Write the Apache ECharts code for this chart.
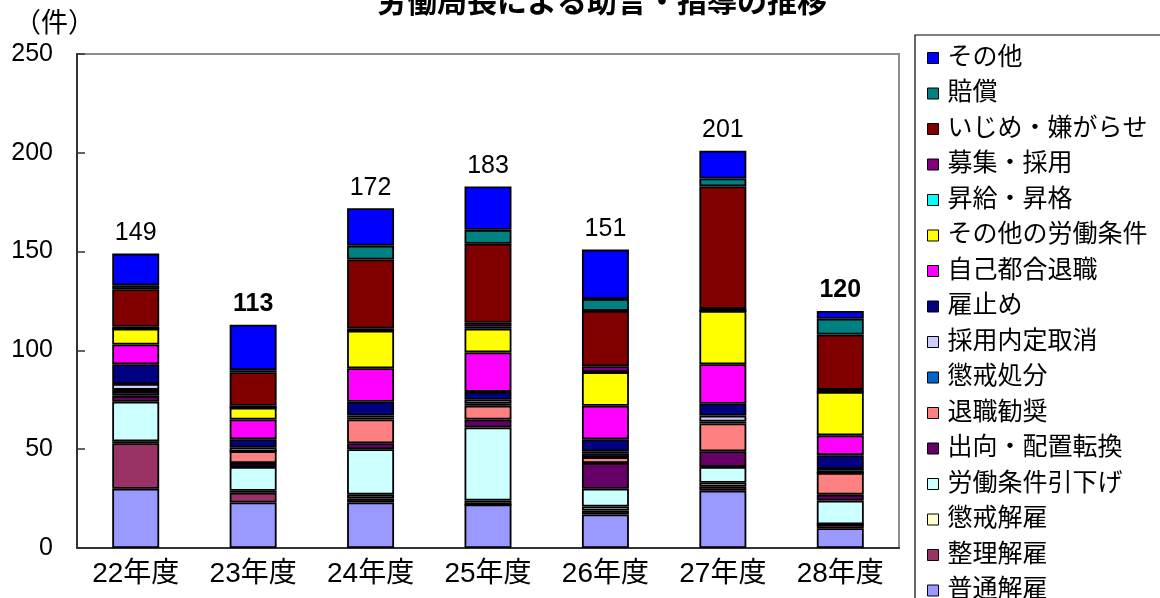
<!DOCTYPE html>
<html>
<head>
<meta charset="utf-8">
<script src="https://cdn.jsdelivr.net/npm/echarts@6/dist/echarts.min.js"></script>
<style>
  html, body { margin: 0; padding: 0; background: #fff; }
  #chart { width: 1160px; height: 598px; }
</style>
</head>
<body>
<div id="chart"></div>
<script>
// 年度
const years = ['22年度', '23年度', '24年度', '25年度', '26年度', '27年度', '28年度'];

// 件数（下から積み上げる順）
const futsuKaiko      = [30, 23, 23, 22, 17, 29, 10]; // 普通解雇
const seiriKaiko      = [23,  5,  2,  0,  2,  2,  2]; // 整理解雇
const chokaiKaiko     = [ 1,  1,  2,  2,  2,  2,  0]; // 懲戒解雇
const hikisage        = [20, 12, 23, 37,  9,  8, 12]; // 労働条件引下げ
const shukko          = [ 3,  2,  3,  4, 13,  8,  3]; // 出向・配置転換
const taishokuKansho  = [ 2,  6, 12,  7,  3, 14, 11]; // 退職勧奨
const chokaiShobun    = [ 1,  0,  1,  1,  2,  1,  0]; // 懲戒処分
const naiteiTorikeshi = [ 3,  2,  1,  2,  1,  3,  2]; // 採用内定取消
const yatoidome       = [10,  4,  7,  4,  6,  6,  7]; // 雇止め
const jikoTsugo       = [10, 10, 17, 20, 17, 20, 10]; // 自己都合退職
const sonotaJoken     = [ 8,  6, 19, 12, 17, 27, 22]; // その他の労働条件
const shokyu          = [ 0,  0,  0,  1,  0,  0,  0]; // 昇給・昇格
const boshu           = [ 1,  1,  1,  2,  3,  1,  1]; // 募集・採用
const ijime           = [19, 17, 35, 40, 28, 62, 28]; // いじめ・嫌がらせ
const baisho          = [ 2,  1,  7,  7,  6,  4,  8]; // 賠償
const sonota          = [16, 23, 19, 22, 25, 14,  4]; // その他

const yTicks = [0, 50, 100, 150, 200, 250];

const stackDefs = [
  ['普通解雇', futsuKaiko, '#9999FF'],
  ['整理解雇', seiriKaiko, '#993366'],
  ['懲戒解雇', chokaiKaiko, '#FFFFCC'],
  ['労働条件引下げ', hikisage, '#CCFFFF'],
  ['出向・配置転換', shukko, '#660066'],
  ['退職勧奨', taishokuKansho, '#FF8080'],
  ['懲戒処分', chokaiShobun, '#0066CC'],
  ['採用内定取消', naiteiTorikeshi, '#CCCCFF'],
  ['雇止め', yatoidome, '#000080'],
  ['自己都合退職', jikoTsugo, '#FF00FF'],
  ['その他の労働条件', sonotaJoken, '#FFFF00'],
  ['昇給・昇格', shokyu, '#00FFFF'],
  ['募集・採用', boshu, '#800080'],
  ['いじめ・嫌がらせ', ijime, '#800000'],
  ['賠償', baisho, '#008080'],
  ['その他', sonota, '#0000FF']
];

// 各年度の合計（棒の上に表示）
const totals = years.map((_, i) => stackDefs.reduce((s, d) => s + d[1][i], 0));
const boldTotalIdx = [1, 6];

const numFont = '"Liberation Sans", Arial, "Noto Sans CJK JP", sans-serif';
const jpFont = '"Liberation Sans", "Noto Sans CJK JP", sans-serif';

const series = stackDefs.map((d, k) => {
  const isTop = k === stackDefs.length - 1;
  return {
    name: d[0],
    type: 'bar',
    stack: 'total',
    barWidth: '40%',
    itemStyle: { color: d[2], borderColor: '#000', borderWidth: 1.8 },
    emphasis: { disabled: true },
    data: isTop
      ? d[1].map((v, i) => ({
          value: v,
          label: {
            show: true,
            position: 'top',
            distance: 8,
            formatter: String(totals[i]),
            fontSize: 25,
            fontFamily: numFont,
            fontWeight: boldTotalIdx.includes(i) ? 'bold' : 'normal',
            color: '#000'
          }
        }))
      : d[1]
  };
});

const chart = echarts.init(document.getElementById('chart'), null, { renderer: 'canvas' });
chart.setOption({
  animation: false,
  backgroundColor: '#fff',
  title: {
    text: '労働局長による助言・指導の推移',
    left: 372,
    top: -16,
    textStyle: { fontSize: 30, fontWeight: 'bold', fontFamily: jpFont, color: '#000' }
  },
  graphic: [
    {
      type: 'text',
      left: 14,
      top: 11,
      style: { text: '（件）', fontSize: 27, fontFamily: jpFont, fill: '#000' }
    },
    {
      type: 'rect',
      shape: { x: 915, y: 35, width: 300, height: 620 },
      style: { fill: 'none', stroke: '#000', lineWidth: 1.2 },
      z: 10
    }
  ],
  legend: {
    orient: 'vertical',
    left: 927,
    top: 45,
    height: 640,
    padding: 0,
    itemWidth: 11,
    itemHeight: 11,
    itemGap: 9.5,
    icon: 'rect',
    data: stackDefs.map(d => d[0]).reverse(),
    itemStyle: { borderColor: '#000', borderWidth: 1 },
    textStyle: {
      fontSize: 25,
      lineHeight: 26,
      fontFamily: jpFont,
      color: '#000',
      padding: [0, 0, 0, 4]
    },
    selectedMode: false
  },
  grid: {
    left: 77,
    right: 261,
    top: 54,
    bottom: 50,
    show: true,
    borderColor: '#8c8c8c',
    borderWidth: 2,
    containLabel: false
  },
  xAxis: {
    type: 'category',
    data: years,
    axisLine: { lineStyle: { color: '#333', width: 2 } },
    axisTick: { inside: true, length: 6, lineStyle: { color: '#333', width: 1.5 } },
    axisLabel: { fontSize: 28, fontFamily: jpFont, color: '#000', margin: 12 }
  },
  yAxis: {
    type: 'value',
    min: yTicks[0],
    max: yTicks[yTicks.length - 1],
    interval: 50,
    splitLine: { show: false },
    axisLine: { show: true, lineStyle: { color: '#333', width: 2 } },
    axisTick: { show: true, inside: true, length: 8, lineStyle: { color: '#333', width: 1.5 } },
    axisLabel: { fontSize: 25, fontFamily: numFont, color: '#000', margin: 24 }
  },
  series: series
});
</script>
</body>
</html>
